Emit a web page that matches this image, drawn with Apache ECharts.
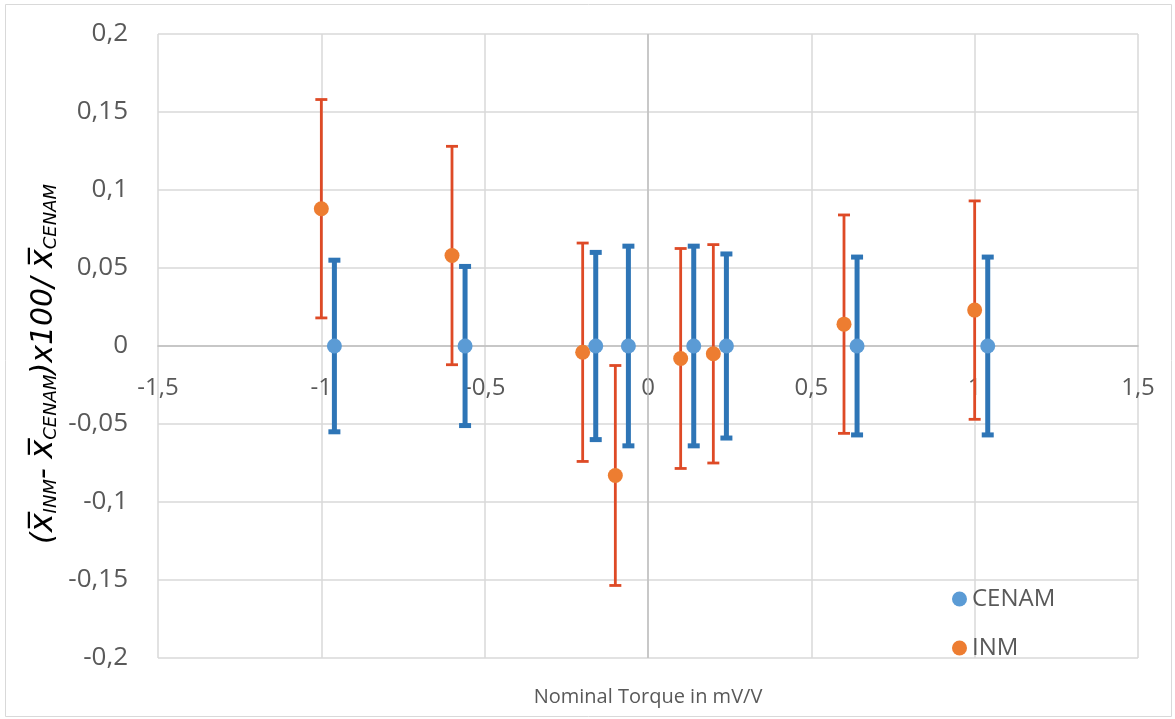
<!DOCTYPE html>
<html>
<head>
<meta charset="utf-8">
<script src="https://cdn.jsdelivr.net/npm/echarts@6/dist/echarts.min.js"></script>
<style>html,body{margin:0;padding:0;background:#fff;}#c{width:1175px;height:719px;}</style>
</head>
<body>
<div id="c"></div>
<script>
const xTickLabels = ['-1,5','-1','-0,5','0','0,5','1','1,5'];
const yTickLabels = ['-0,2','-0,15','-0,1','-0,05','0','0,05','0,1','0,15','0,2'];
const cenamX = [-0.96,-0.56,-0.16,-0.06,0.14,0.24,0.64,1.04];
const cenamY = [0,0,0,0,0,0,0,0];
const cenamErr = [0.055,0.051,0.060,0.064,0.064,0.059,0.057,0.057];
const inmX = [-1.0,-0.6,-0.2,-0.1,0.1,0.2,0.6,1.0];
const inmY = [0.088,0.058,-0.004,-0.083,-0.008,-0.005,0.014,0.023];
const inmErr = [0.070,0.070,0.070,0.0705,0.0705,0.070,0.070,0.070];

const FONT = '"Open Sans", "Liberation Sans", sans-serif';
const TFONT = '"DejaVu Sans", sans-serif';
const TXT = '#595959';

function pts(xs, ys, es){ return xs.map((x,i)=> es ? [x, ys[i], es[i]] : [x, ys[i]]); }

function errRender(color, lw, capW){
  return function(params, api){
    const x = api.value(0), y = api.value(1), e = api.value(2);
    const top = api.coord([x, y+e]);
    const bot = api.coord([x, y-e]);
    const st = {stroke: color, lineWidth: lw};
    return {type:'group', children:[
      {type:'line', shape:{x1:top[0], y1:top[1], x2:bot[0], y2:bot[1]}, style:st},
      {type:'line', shape:{x1:top[0]-capW/2, y1:top[1], x2:top[0]+capW/2, y2:top[1]}, style:st},
      {type:'line', shape:{x1:bot[0]-capW/2, y1:bot[1], x2:bot[0]+capW/2, y2:bot[1]}, style:st}
    ]};
  };
}

const xMin = -1.5, xMax = 1.5, xStep = 0.5;
const yMin = -0.2, yMax = 0.2, yStep = 0.05;

const chart = echarts.init(document.getElementById('c'));
const option = {
  animation:false,
  backgroundColor:'#fff',
  textStyle:{fontFamily:FONT},
  graphic:[
    {type:'rect', shape:{x:5.5,y:4.5,width:1166,height:712}, style:{fill:'none', stroke:'#D9D9D9', lineWidth:1}, silent:true},
    {type:'text', x:648, y:697, silent:true,
      style:{text:'Nominal Torque in mV/V', fontSize:20, fill:TXT, fontFamily:FONT, align:'center', verticalAlign:'middle'}},
    {type:'text', x:44, y:364, rotation:Math.PI/2, silent:true,
      style:{
        text:'{p|(}{x|x\u0305}{s|INM}{p|- }{x|x\u0305}{s|CENAM}{p|)x100/ }{x|x\u0305}{s|CENAM}',
        align:'center', verticalAlign:'middle', fill:'#000', fontFamily:TFONT,
        rich:{
          p:{fontSize:30, fontStyle:'italic', fill:'#000', fontFamily:TFONT},
          x:{fontSize:32, fontStyle:'italic', fill:'#000', fontFamily:TFONT},
          s:{fontSize:18, fontStyle:'italic', fill:'#000', fontFamily:TFONT, verticalAlign:'bottom', padding:[12,0,0,0]}
        }
      }}
  ],
  grid:[
    {left:158, right:37, top:34, bottom:61, containLabel:false, outerBoundsMode:'none'},
    {left:158, right:37, top:34, bottom:373, containLabel:false, outerBoundsMode:'none'}
  ],
  legend:{
    data:['CENAM','INM'], orient:'vertical', left:947, top:582, itemGap:25,
    icon:'circle', itemWidth:15, itemHeight:15,
    textStyle:{fontSize:24, color:TXT, fontFamily:FONT}
  },
  xAxis:[
    {
      gridIndex:0, type:'value', min:xMin, max:xMax, interval:xStep,
      axisLine:{show:false}, axisTick:{show:false}, axisLabel:{show:false},
      splitLine:{show:true, lineStyle:{color:'#D9D9D9', width:1.5}}
    },
    {
      gridIndex:1, type:'value', min:xMin, max:xMax, interval:xStep, position:'bottom',
      axisLine:{show:true, onZero:false, lineStyle:{color:'#BFBFBF', width:1.5}},
      axisTick:{show:false}, splitLine:{show:false},
      axisLabel:{fontSize:24, color:TXT, margin:30, fontFamily:FONT,
        formatter:(v)=> xTickLabels[Math.round((v-xMin)/xStep)]}
    }
  ],
  yAxis:[
    {
      gridIndex:0, type:'value', min:yMin, max:yMax, interval:yStep,
      axisLine:{show:false, onZero:false},
      axisTick:{show:false},
      axisLabel:{fontSize:26, color:TXT, margin:30, fontFamily:FONT,
        formatter:(v)=> yTickLabels[Math.round((v-yMin)/yStep)]},
      splitLine:{show:true, lineStyle:{color:'#D9D9D9', width:1.5}}
    },
    {
      gridIndex:1, type:'value', min:0, max:yMax, show:false
    }
  ],
  series:[
    {
      name:'INM err', type:'custom', z:2, xAxisIndex:0, yAxisIndex:0,
      renderItem: errRender('#DE4A26', 2.8, 12),
      data: pts(inmX, inmY, inmErr), encode:{x:0,y:1}, silent:true
    },
    {
      name:'CENAM err', type:'custom', z:2, xAxisIndex:0, yAxisIndex:0,
      renderItem: errRender('#2E75B6', 5, 12),
      data: pts(cenamX, cenamY, cenamErr), encode:{x:0,y:1}, silent:true
    },
    {
      name:'CENAM', type:'scatter', z:5, symbol:'circle', symbolSize:15, xAxisIndex:0, yAxisIndex:0,
      itemStyle:{color:'#5B9BD5', opacity:1},
      data: pts(cenamX, cenamY),
      markLine:{silent:true, symbol:'none', label:{show:false}, z:1,
        lineStyle:{color:'#BFBFBF', width:1.5, type:'solid'},
        data:[{xAxis:0}]}
    },
    {
      name:'INM', type:'scatter', z:5, symbol:'circle', symbolSize:15, xAxisIndex:0, yAxisIndex:0,
      itemStyle:{color:'#ED7D31', opacity:1},
      data: pts(inmX, inmY)
    }
  ]
};
chart.setOption(option);
</script>
</body>
</html>
